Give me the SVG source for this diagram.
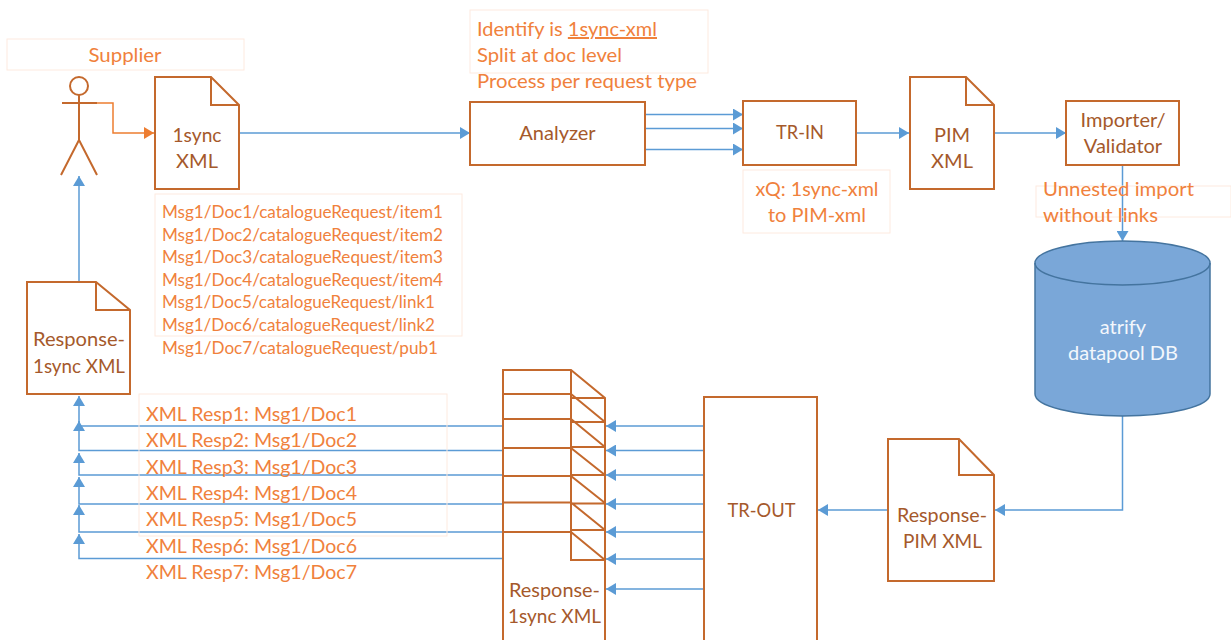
<svg xmlns="http://www.w3.org/2000/svg" width="1231" height="640" viewBox="0 0 1231 640">
<style>
text{font-family:"Lato","Liberation Sans",sans-serif}
.s{fill:#fff;stroke:#c4692d;stroke-width:2}
.n{fill:none;stroke:#c4692d;stroke-width:2}
.t{fill:#a5592b;font-size:20px;text-anchor:middle}
.l{fill:#f0813c;font-size:20px}
.m{fill:#f0813c;font-size:17px}
.b{fill:none;stroke:#fdeadf;stroke-width:1}
.c{fill:none;stroke:#5b9bd5;stroke-width:1.5}
</style>
<defs>
<marker id="ab" markerUnits="userSpaceOnUse" markerWidth="11" markerHeight="12" refX="10" refY="6" orient="auto"><path d="M0 0L10 6L0 12Z" fill="#5b9bd5"/></marker>
<marker id="ao" markerUnits="userSpaceOnUse" markerWidth="11" markerHeight="12" refX="10" refY="6" orient="auto"><path d="M0 0L10 6L0 12Z" fill="#ed7d31"/></marker>
</defs>
<rect width="1231" height="640" fill="#fff"/>
<g id="connectors">
<path class="c" style="stroke:#ed7d31" d="M97 103H113V133H154" marker-end="url(#ao)"/>
<path class="c" d="M239 133H470" marker-end="url(#ab)"/>
<path class="c" d="M645 114.500H743" marker-end="url(#ab)"/>
<path class="c" d="M645 128.500H743" marker-end="url(#ab)"/>
<path class="c" d="M645 149.500H743" marker-end="url(#ab)"/>
<path class="c" d="M856 133H909" marker-end="url(#ab)"/>
<path class="c" d="M994 133H1066" marker-end="url(#ab)"/>
<path class="c" d="M1122.500 165V241" marker-end="url(#ab)"/>
<path class="c" d="M1122.500 416V510H995" marker-end="url(#ab)"/>
<path class="c" d="M888 510H818" marker-end="url(#ab)"/>
<path class="c" d="M704 426H606" marker-end="url(#ab)"/>
<path class="c" d="M704 450.500H606" marker-end="url(#ab)"/>
<path class="c" d="M704 475H606" marker-end="url(#ab)"/>
<path class="c" d="M704 504H606" marker-end="url(#ab)"/>
<path class="c" d="M704 532H606" marker-end="url(#ab)"/>
<path class="c" d="M704 559H606" marker-end="url(#ab)"/>
<path class="c" d="M704 589H606" marker-end="url(#ab)"/>
<path class="c" d="M503 426H79V396" marker-end="url(#ab)"/>
<path class="c" d="M503 450.500H79V421" marker-end="url(#ab)"/>
<path class="c" d="M503 475H79V453" marker-end="url(#ab)"/>
<path class="c" d="M503 504H79V477" marker-end="url(#ab)"/>
<path class="c" d="M503 532H79V505" marker-end="url(#ab)"/>
<path class="c" d="M503 558.500H79V534" marker-end="url(#ab)"/>
<path class="c" d="M79 282V176" marker-end="url(#ab)"/>
</g>
<g id="supplier-label"><rect class="b" x="7" y="39" width="237" height="31"/><text class="l" x="125" y="62" text-anchor="middle" textLength="73" lengthAdjust="spacingAndGlyphs">Supplier</text></g>
<g id="actor"><circle class="n" cx="79" cy="86" r="9"/><path class="n" d="M79 95V140M62 103H97M79 140L61 175M79 140L97 175"/></g>
<g id="doc-1sync"><path class="s" d="M155 77H211L239 105V189H155Z"/><path class="n" d="M211 77V105H239"/><text class="t" x="197" y="142" textLength="49" lengthAdjust="spacingAndGlyphs">1sync</text><text class="t" x="197" y="168">XML</text></g>
<g id="msg-list"><rect class="b" x="155" y="194" width="307" height="142"/>
<text class="m" x="162" y="218" textLength="281" lengthAdjust="spacingAndGlyphs">Msg1/Doc1/catalogueRequest/item1</text>
<text class="m" x="162" y="240.500" textLength="281" lengthAdjust="spacingAndGlyphs">Msg1/Doc2/catalogueRequest/item2</text>
<text class="m" x="162" y="263" textLength="281" lengthAdjust="spacingAndGlyphs">Msg1/Doc3/catalogueRequest/item3</text>
<text class="m" x="162" y="285.500" textLength="281" lengthAdjust="spacingAndGlyphs">Msg1/Doc4/catalogueRequest/item4</text>
<text class="m" x="162" y="308" textLength="273" lengthAdjust="spacingAndGlyphs">Msg1/Doc5/catalogueRequest/link1</text>
<text class="m" x="162" y="330.500" textLength="273" lengthAdjust="spacingAndGlyphs">Msg1/Doc6/catalogueRequest/link2</text>
<text class="m" x="162" y="353.500" textLength="276" lengthAdjust="spacingAndGlyphs">Msg1/Doc7/catalogueRequest/pub1</text></g>
<g id="identify-label"><rect class="b" x="470" y="10" width="238" height="63"/>
<text class="l" x="477" y="36" textLength="180" lengthAdjust="spacingAndGlyphs">Identify is <tspan text-decoration="underline">1sync-xml</tspan></text>
<text class="l" x="477" y="62" textLength="145" lengthAdjust="spacingAndGlyphs">Split at doc level</text>
<text class="l" x="477" y="88" textLength="220" lengthAdjust="spacingAndGlyphs">Process per request type</text></g>
<g id="analyzer"><rect class="s" x="470" y="102" width="175" height="63"/><text class="t" x="557.500" y="140">Analyzer</text></g>
<g id="tr-in"><rect class="s" x="743" y="101" width="113" height="64"/><text class="t" x="800" y="139" textLength="48" lengthAdjust="spacingAndGlyphs">TR-IN</text></g>
<g id="xq-label"><rect class="b" x="743" y="170" width="147" height="63"/><text class="l" x="817" y="196" text-anchor="middle" textLength="123" lengthAdjust="spacingAndGlyphs">xQ: 1sync-xml</text><text class="l" x="817" y="222" text-anchor="middle" textLength="98" lengthAdjust="spacingAndGlyphs">to PIM-xml</text></g>
<g id="doc-pim"><path class="s" d="M910 77H966L994 105V189H910Z"/><path class="n" d="M966 77V105H994"/><text class="t" x="952" y="142">PIM</text><text class="t" x="952" y="168">XML</text></g>
<g id="importer"><rect class="s" x="1066" y="101" width="113" height="64"/><text class="t" x="1123" y="127">Importer/</text><text class="t" x="1123" y="153">Validator</text></g>
<g id="unnested-label"><rect class="b" x="1036" y="186" width="195" height="31"/><text class="l" x="1043" y="196" textLength="151" lengthAdjust="spacingAndGlyphs">Unnested import</text><text class="l" x="1043" y="222" textLength="115" lengthAdjust="spacingAndGlyphs">without links</text></g>
<g id="database"><path d="M1035 263A87.500 22 0 0 1 1210 263V394A87.500 22 0 0 1 1035 394Z" fill="#7aa7d8" stroke="#44749f" stroke-width="1.500"/><path d="M1035 263A87.500 22 0 0 0 1210 263" fill="none" stroke="#44749f" stroke-width="1.500"/><text x="1123" y="334" fill="#f3f7fc" font-size="20" text-anchor="middle">atrify</text><text x="1123" y="360" fill="#f3f7fc" font-size="20" text-anchor="middle">datapool DB</text></g>
<g id="doc-response-pim"><path class="s" d="M888 439H959L994 475V581H888Z"/><path class="n" d="M959 439V475H994"/><text class="t" x="942" y="522" textLength="90" lengthAdjust="spacingAndGlyphs">Response-</text><text class="t" x="942.500" y="548" textLength="79" lengthAdjust="spacingAndGlyphs">PIM XML</text></g>
<g id="tr-out"><path class="s" d="M704 640V397H817V640"/><text class="t" x="761.500" y="517" textLength="68" lengthAdjust="spacingAndGlyphs">TR-OUT</text></g>
<g id="doc-stack"><path class="n" d="M503 640V370H571L605 398V640"/><path class="n" d="M571 370V560H605M503 394H571L605 422M503 419H571L605 447M503 448H571L605 475M503 476H571L605 503M503 502.500H571L605 530M503 532H571L605 560M571 398H605M571 422H605M571 447H605M571 475H605M571 503.500H605M571 530H605"/><text class="t" x="554.500" y="597" textLength="91" lengthAdjust="spacingAndGlyphs">Response-</text><text class="t" x="554.500" y="623" textLength="93" lengthAdjust="spacingAndGlyphs">1sync XML</text></g>
<g id="doc-response-1sync"><path class="s" d="M27 282H96L130 310V394H27Z"/><path class="n" d="M96 282V310H130"/><text class="t" x="79" y="346" textLength="92" lengthAdjust="spacingAndGlyphs">Response-</text><text class="t" x="79" y="373" textLength="92" lengthAdjust="spacingAndGlyphs">1sync XML</text></g>
<g id="resp-list"><rect class="b" x="139" y="394" width="308" height="142"/>
<text class="l" x="146" y="421" textLength="211" lengthAdjust="spacingAndGlyphs">XML Resp1: Msg1/Doc1</text>
<text class="l" x="146" y="447" textLength="211" lengthAdjust="spacingAndGlyphs">XML Resp2: Msg1/Doc2</text>
<text class="l" x="146" y="474" textLength="211" lengthAdjust="spacingAndGlyphs">XML Resp3: Msg1/Doc3</text>
<text class="l" x="146" y="500" textLength="211" lengthAdjust="spacingAndGlyphs">XML Resp4: Msg1/Doc4</text>
<text class="l" x="146" y="526" textLength="211" lengthAdjust="spacingAndGlyphs">XML Resp5: Msg1/Doc5</text>
<text class="l" x="146" y="553" textLength="211" lengthAdjust="spacingAndGlyphs">XML Resp6: Msg1/Doc6</text>
<text class="l" x="146" y="579" textLength="211" lengthAdjust="spacingAndGlyphs">XML Resp7: Msg1/Doc7</text></g>
</svg>
